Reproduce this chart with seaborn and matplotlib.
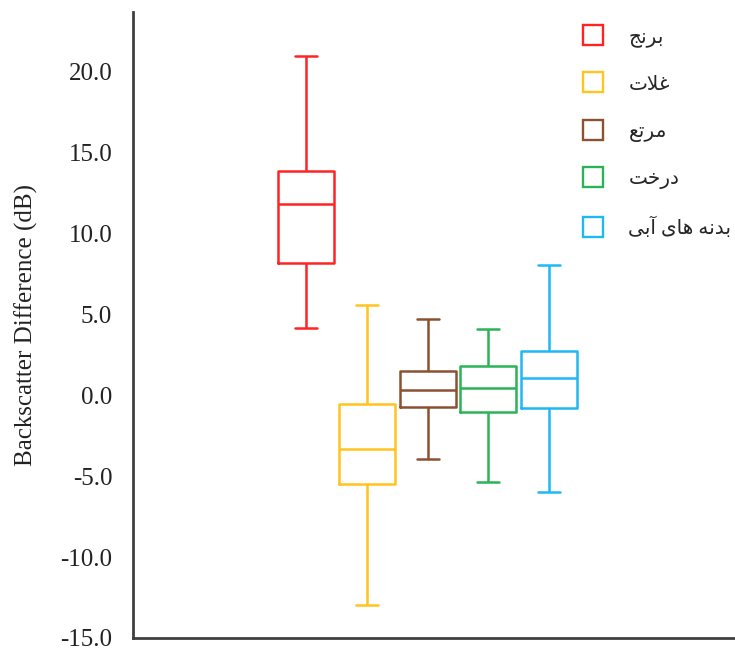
import numpy as np
import pandas as pd
import matplotlib
matplotlib.use("Agg")
import matplotlib.pyplot as plt
from matplotlib.lines import Line2D
import seaborn as sns

# Categories (logical Persian) and their visual-order presentation forms for rendering
categories = ["برنج", "غلات", "مرتع", "درخت", "بدنه های آبی"]
display_labels = [
    "\uFE9E\uFEE7\uFEAE\uFE91",
    "\uFE95\uFEFC\uFECF",
    "\uFECA\uFE97\uFEAE\uFEE3",
    "\uFE96\uFEA7\uFEAD\uFEA9",
    "\uFEF0\uFE91\uFE81 \uFEEF\uFE8E\uFEEB \uFEEA\uFEE7\uFEAA\uFE91",
]
colors = ["#FF2424", "#FFC41E", "#8B5131", "#2BB457", "#1FB8F2"]

# Five-number summaries: min, Q1, median, Q3, max
rice = [4.15, 8.2, 11.8, 13.85, 20.95]
cereals = [-12.95, -5.5, -3.33, -0.52, 5.6]
pasture = [-3.95, -0.72, 0.31, 1.51, 4.7]
tree = [-5.35, -1.05, 0.45, 1.84, 4.13]
water = [-6.0, -0.79, 1.1, 2.73, 8.06]

yticks = [-15, -10, -5, 0, 5, 10, 15, 20]
ylabel = "Backscatter Difference (dB)"

values = [rice, cereals, pasture, tree, water]
df = pd.DataFrame({
    "class": np.repeat(categories, 5),
    "value": np.concatenate(values),
})

sns.set_style("white")
plt.rcParams["font.family"] = ["Liberation Serif", "DejaVu Sans"]

fig = plt.figure(figsize=(7.35, 6.51), dpi=100)
ax = fig.add_axes([133 / 735, 1 - 638 / 651, 1 - 133 / 735, (638 - 12) / 651])

palette = dict(zip(categories, colors))
sns.boxplot(data=df, x="class", y="value", hue="class", order=categories,
            hue_order=categories, palette=palette, fill=False, whis=np.inf,
            width=0.925, linewidth=1.8, legend=False, ax=ax, capwidths=0.36)

ax.set_xlim(-2.85, 7.06)
ax.set_ylim(-15, 23.7)
ax.set_yticks(yticks)
ax.set_yticklabels([f"{t:.1f}" for t in yticks], fontsize=18, color="#222222")
ax.set_xticks([])
ax.set_xlabel("")
ax.set_ylabel(ylabel, fontsize=18, color="#222222")
ax.yaxis.set_label_coords(-0.157, 0.5)
ax.tick_params(axis="y", length=0, pad=15)

for s in ["top", "right"]:
    ax.spines[s].set_visible(False)
for s in ["left", "bottom"]:
    ax.spines[s].set_color("#404040")
    ax.spines[s].set_linewidth(2)

handles = [Line2D([], [], linestyle="none", marker="s", markersize=14,
                  markerfacecolor="none", markeredgecolor=c, markeredgewidth=1.7)
           for c in colors]
leg = fig.legend(handles, display_labels, loc="upper left",
                 bbox_to_anchor=(563 / 735, 1 - 10 / 651), frameon=False,
                 prop={"family": ["Liberation Serif", "DejaVu Sans"], "size": 14.5},
                 labelspacing=1.4, handletextpad=1.15, handlelength=1.2)

fig.savefig("out.png", dpi=100)
